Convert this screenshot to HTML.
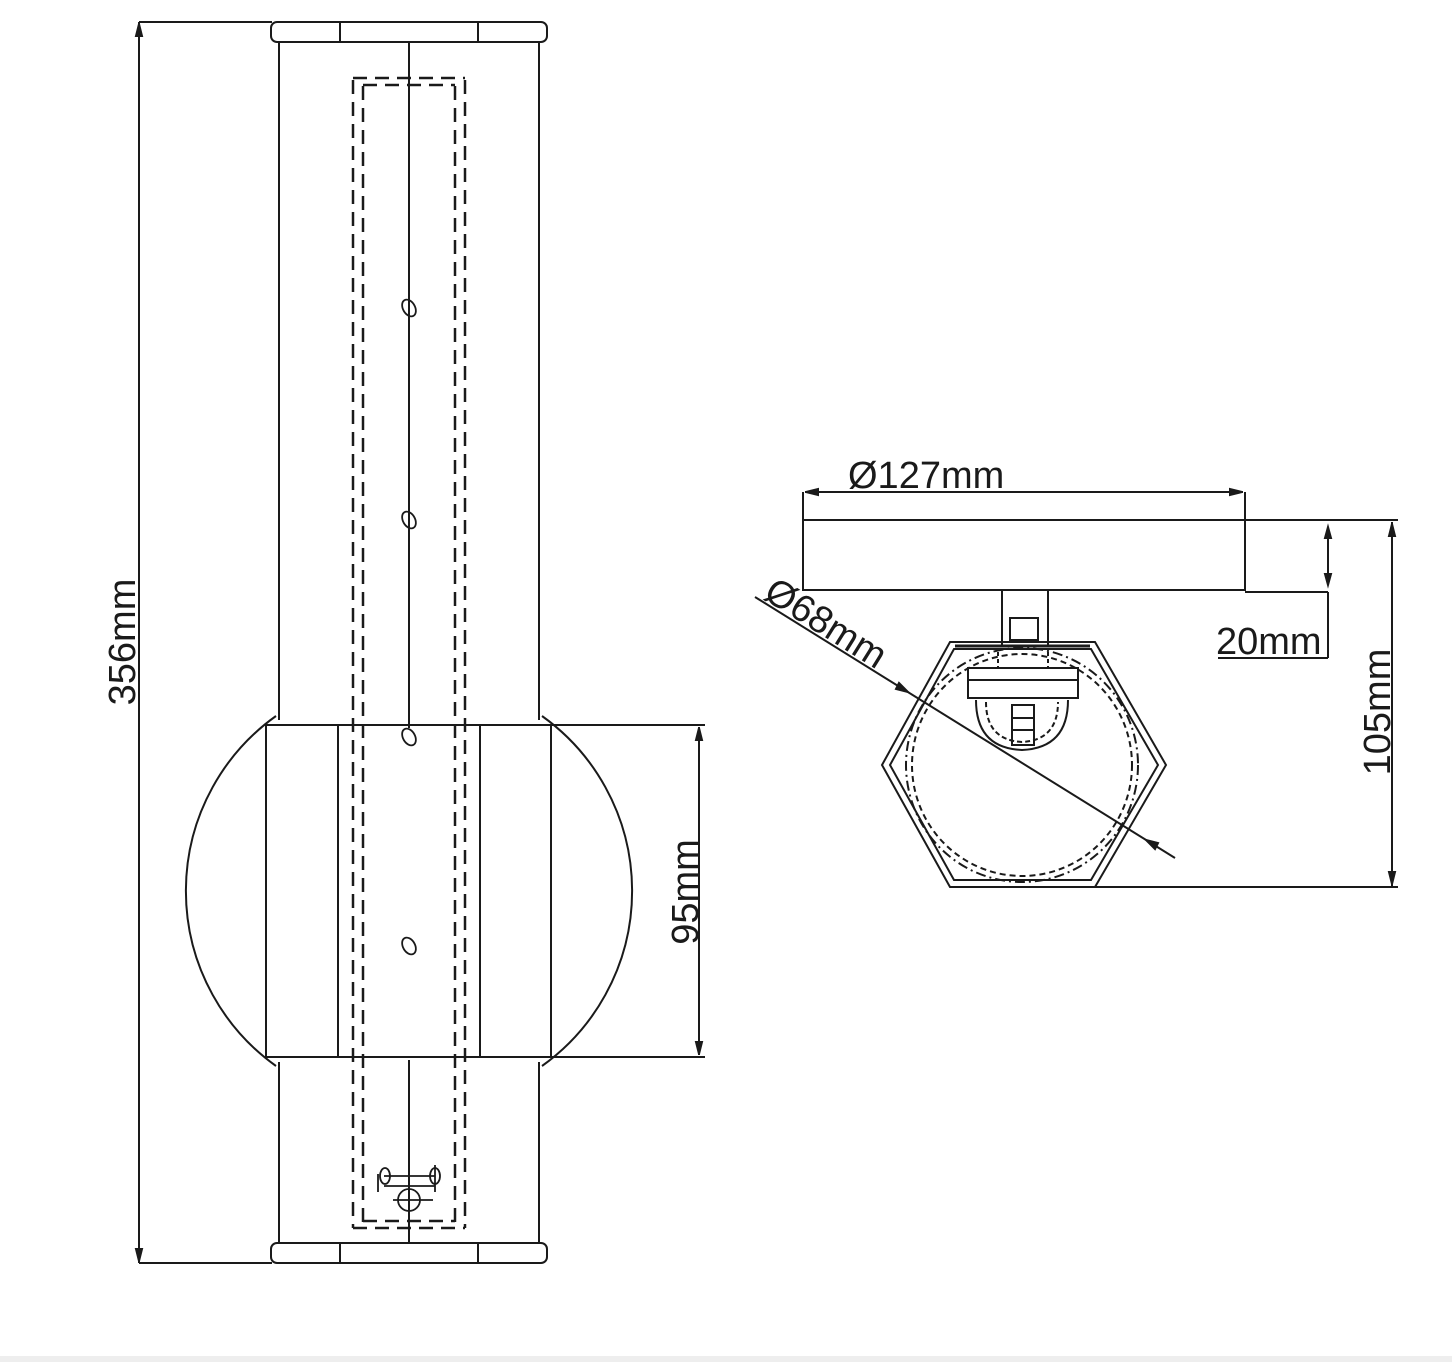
<!DOCTYPE html>
<html><head><meta charset="utf-8"><style>
html,body{margin:0;padding:0;background:#fff;}
svg{display:block;}
text{font-family:"Liberation Sans",Arial,sans-serif;fill:#1a1a1a;}
</style></head><body>
<svg width="1452" height="1362" viewBox="0 0 1452 1362" xmlns="http://www.w3.org/2000/svg">
<rect x="0" y="0" width="1452" height="1362" fill="#fff"/>
<rect x="0" y="1356" width="1452" height="6" fill="#eeeeee"/>
<g stroke="#1a1a1a" stroke-width="2" fill="none">
<line x1="139" y1="22" x2="139" y2="1263"/>
<line x1="139" y1="22" x2="272" y2="22"/>
<line x1="139" y1="1263" x2="272" y2="1263"/>
<path d="M139 24 l-3 12 h6 z M139 1261 l-3 -12 h6 z" fill="#1a1a1a"/>
<rect x="271" y="22" width="276" height="20" rx="6"/>
<line x1="340" y1="22" x2="340" y2="42"/><line x1="478" y1="22" x2="478" y2="42"/>
<rect x="271" y="1243" width="276" height="20" rx="6"/>
<line x1="340" y1="1243" x2="340" y2="1263"/><line x1="478" y1="1243" x2="478" y2="1263"/>
<line x1="279" y1="42" x2="279" y2="720"/><line x1="539" y1="42" x2="539" y2="720"/>
<line x1="279" y1="1062" x2="279" y2="1243"/><line x1="539" y1="1062" x2="539" y2="1243"/>
<line x1="409" y1="42" x2="409" y2="728"/>
<line x1="409" y1="1060" x2="409" y2="1243"/>
<rect x="266" y="725" width="285" height="332"/>
<line x1="338" y1="725" x2="338" y2="1057"/><line x1="480" y1="725" x2="480" y2="1057"/>
<path d="M276 716 A215 215 0 0 0 276 1066"/>
<path d="M542 716 A215 215 0 0 1 542 1066"/>
<line x1="551" y1="725" x2="705" y2="725"/><line x1="551" y1="1057" x2="705" y2="1057"/>
<line x1="699" y1="727" x2="699" y2="1055"/>
<path d="M699 728 l-3 12 h6 z M699 1054 l-3 -12 h6 z" fill="#1a1a1a"/>
</g>
<g stroke="#1a1a1a" stroke-width="2.5" fill="none" stroke-dasharray="14,8">
<line x1="353" y1="80" x2="353" y2="1228"/><line x1="363" y1="86" x2="363" y2="1222"/>
<line x1="455" y1="86" x2="455" y2="1222"/><line x1="465" y1="80" x2="465" y2="1228"/>
<line x1="353" y1="78" x2="465" y2="78"/><line x1="363" y1="85" x2="455" y2="85"/>
<line x1="353" y1="1228" x2="465" y2="1228"/><line x1="363" y1="1221" x2="455" y2="1221"/>
</g>
<g stroke="#1a1a1a" stroke-width="1.8" fill="none">
<ellipse cx="409" cy="308" rx="6" ry="9" transform="rotate(-30 409 308)"/>
<ellipse cx="409" cy="520" rx="6" ry="9" transform="rotate(-30 409 520)"/>
<ellipse cx="409" cy="737" rx="6" ry="9" transform="rotate(-30 409 737)"/>
<ellipse cx="409" cy="946" rx="6" ry="9" transform="rotate(-30 409 946)"/>
<circle cx="409" cy="1200" r="11"/>
<line x1="393" y1="1200" x2="433" y2="1200"/>
<line x1="384" y1="1176" x2="435" y2="1176"/><line x1="384" y1="1186" x2="435" y2="1186"/>
<line x1="378" y1="1174" x2="378" y2="1192"/><line x1="435" y1="1165" x2="435" y2="1192"/>
<ellipse cx="385" cy="1176" rx="5" ry="8"/><ellipse cx="435" cy="1176" rx="5" ry="8"/>
</g>
<text transform="translate(135 642) rotate(-90)" font-size="38" text-anchor="middle">356mm</text>
<text transform="translate(698 892) rotate(-90)" font-size="38" text-anchor="middle">95mm</text>

<g stroke="#1a1a1a" stroke-width="2" fill="none">
<line x1="803" y1="492" x2="803" y2="590"/>
<line x1="1245" y1="492" x2="1245" y2="590"/>
<line x1="805" y1="492" x2="1243" y2="492"/>
<path d="M806 492 l12 -3 v6 z M1242 492 l-12 -3 v6 z" fill="#1a1a1a"/>
<rect x="803" y="520" width="442" height="70"/>
<line x1="1245" y1="520" x2="1398" y2="520"/>
<line x1="1245" y1="592" x2="1328" y2="592"/>
<line x1="1328" y1="592" x2="1328" y2="658"/>
<line x1="1218" y1="658" x2="1328" y2="658"/>
<line x1="1328" y1="527" x2="1328" y2="585"/>
<path d="M1328 527 l-3 11 h6 z M1328 585 l-3 -11 h6 z" fill="#1a1a1a"/>
<line x1="1392" y1="522" x2="1392" y2="886"/>
<path d="M1392 524 l-3 12 h6 z M1392 884 l-3 -12 h6 z" fill="#1a1a1a"/>
<line x1="1095" y1="887" x2="1398" y2="887"/>
<line x1="1002" y1="590" x2="1002" y2="645"/><line x1="1048" y1="590" x2="1048" y2="645"/>
<rect x="1010" y="618" width="28" height="22"/>
<polygon points="950,642 1095,642 1166,765 1095,887 950,887 882,765"/>
<polygon points="954,649 1091,649 1158,765 1091,880 954,880 890,765"/>
<line x1="955" y1="646" x2="1090" y2="646" stroke-width="3"/>
<ellipse cx="1022" cy="765" rx="116" ry="117" stroke-dasharray="10,4,2,4"/>
<ellipse cx="1022" cy="765" rx="110" ry="111" stroke-dasharray="6,4"/>
<rect x="968" y="668" width="110" height="30"/>
<line x1="968" y1="680" x2="1078" y2="680"/>
<path d="M976 700 Q976 748 1022 750 Q1068 748 1068 700"/>
<path d="M986 702 Q986 740 1022 742 Q1058 740 1058 702" stroke-dasharray="5,3"/>
<rect x="1012" y="705" width="22" height="40"/>
<line x1="1012" y1="718" x2="1034" y2="718"/><line x1="1012" y1="730" x2="1034" y2="730"/>
<line x1="998" y1="652" x2="998" y2="668" stroke-dasharray="4,3"/><line x1="1048" y1="652" x2="1048" y2="668" stroke-dasharray="4,3"/>
<line x1="755" y1="597" x2="1175" y2="858"/>
<path d="M908 692 l-12 -3 l3 -6 z M1146 840 l12 3 l-3 6 z" fill="#1a1a1a"/>
</g>
<text x="848" y="488" font-size="38">Ø127mm</text>
<text x="1216" y="654" font-size="38">20mm</text>
<text transform="translate(1390 712) rotate(-90)" font-size="38" text-anchor="middle">105mm</text>
<text transform="translate(762 598) rotate(32)" font-size="38">Ø68mm</text>
</svg>
</body></html>
